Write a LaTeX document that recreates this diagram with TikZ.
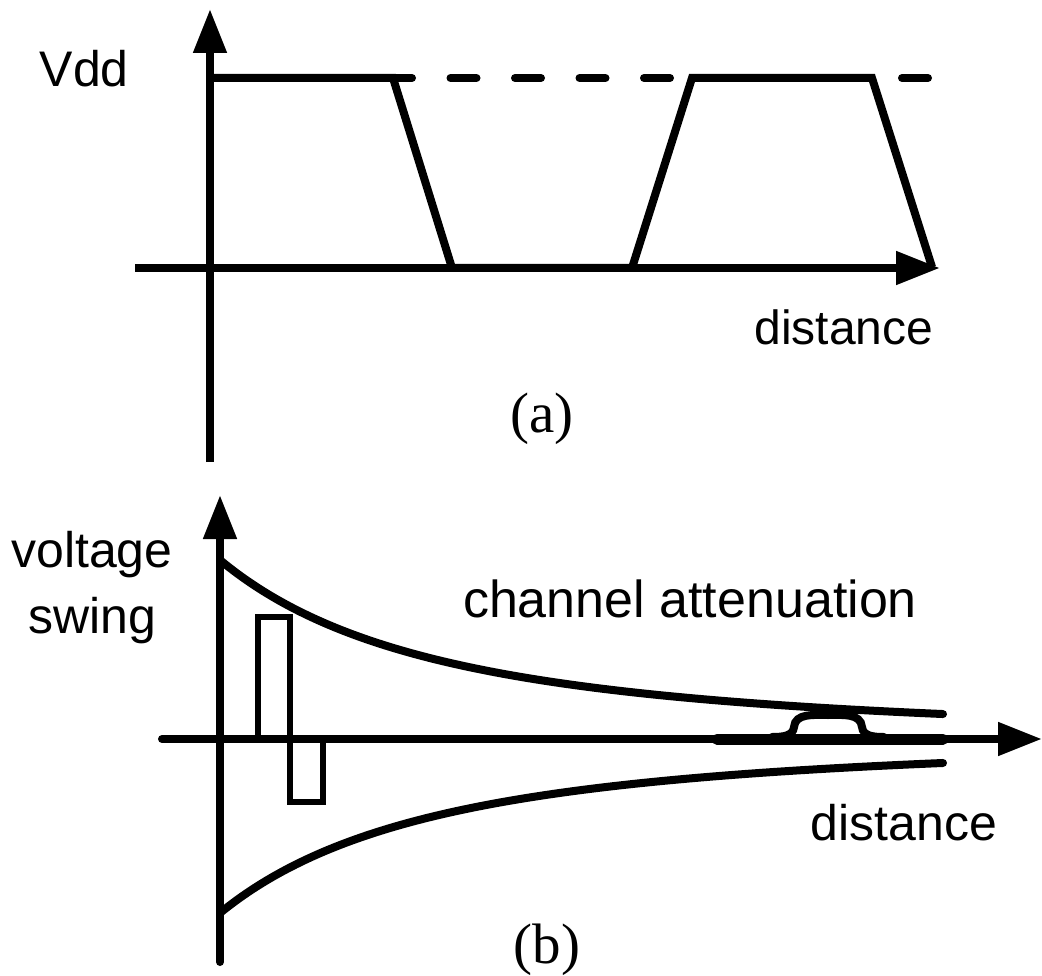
\documentclass[tikz,border=0pt]{standalone}
\usepackage{fontspec}
\setmainfont{Liberation Serif}
\setsansfont{Liberation Sans}
\usetikzlibrary{arrows.meta}
\tikzset{
  axis/.style={line width=8pt,-{Triangle[length=44pt,width=32pt]}},
  sig/.style={line width=8pt,line join=miter},
  env/.style={line width=8pt,line cap=round},
  pulse/.style={line width=5.5pt,line join=miter},
  lbl/.style={font=\sffamily\fontsize{50}{60}\selectfont,inner sep=0pt},
  captxt/.style={font=\rmfamily\fontsize{57}{66}\selectfont,inner sep=0pt},
}
\begin{document}
\begin{tikzpicture}[x=1pt,y=-1pt]
\useasboundingbox (0,0) rectangle (1042,976);
% ---------- panel (a) ----------
\coordinate (ay0) at (210,462);
\coordinate (ay1) at (210,9);
\coordinate (ax0) at (135,268);
\coordinate (ax1) at (940,268);
\draw[line width=8pt,line cap=round,dash pattern=on 26pt off 38.5pt,dash phase=17.5pt] (210,78) -- (928,78);
\draw[axis] (ay0) -- (ay1);
\draw[axis] (ax0) -- (ax1);
\draw[sig] (210,78) -- (393,78) -- (452,268) -- (632,268) -- (692,78) -- (872,78) -- (932,267);
\node[lbl,anchor=base east] (vdd) at (129,87) {Vdd};
\node[lbl,font=\sffamily\fontsize{48}{58}\selectfont,anchor=base] (dista) at (844,345) {distance};
\node[captxt,anchor=base] (capa) at (542,432) {(a)};
% ---------- panel (b) ----------
\coordinate (by0) at (220,962);
\coordinate (by1) at (220,495);
\coordinate (bx0) at (162,739);
\coordinate (bx1) at (1042,739);
\draw[axis,line cap=round] (by0) -- (by1);
\draw[axis,line cap=round] (bx0) -- (bx1);
\draw[env] plot[domain=220:943,samples=120,smooth] (\x,{739-179*(431/(\x-220+431))^2});
\draw[env] plot[domain=220:943,samples=120,smooth] (\x,{739+174*(427/(\x-220+427))^2});
\draw[pulse] (258,739) -- (258,617) -- (290,617) -- (290,802) -- (323,802) -- (323,739);
% received residual bump
\draw[line width=11pt,line cap=round] (717,739) -- (943,739);
\draw[line width=8pt,line cap=round] (772,737) to[out=0,in=-95] (794,727) to[out=85,in=180] (828,715) to[out=0,in=95] (862,727) to[out=-85,in=180] (884,737);
\node[lbl,anchor=base] (volt) at (92,567) {voltage};
\node[lbl,anchor=base] (swing) at (92,633) {swing};
\node[lbl,font=\sffamily\fontsize{52}{62}\selectfont,anchor=base] (chatt) at (690,617) {channel attenuation};
\node[lbl,anchor=base] (distb) at (904,840) {distance};
\node[captxt,anchor=base] (capb) at (547,963) {(b)};
\end{tikzpicture}
\end{document}
